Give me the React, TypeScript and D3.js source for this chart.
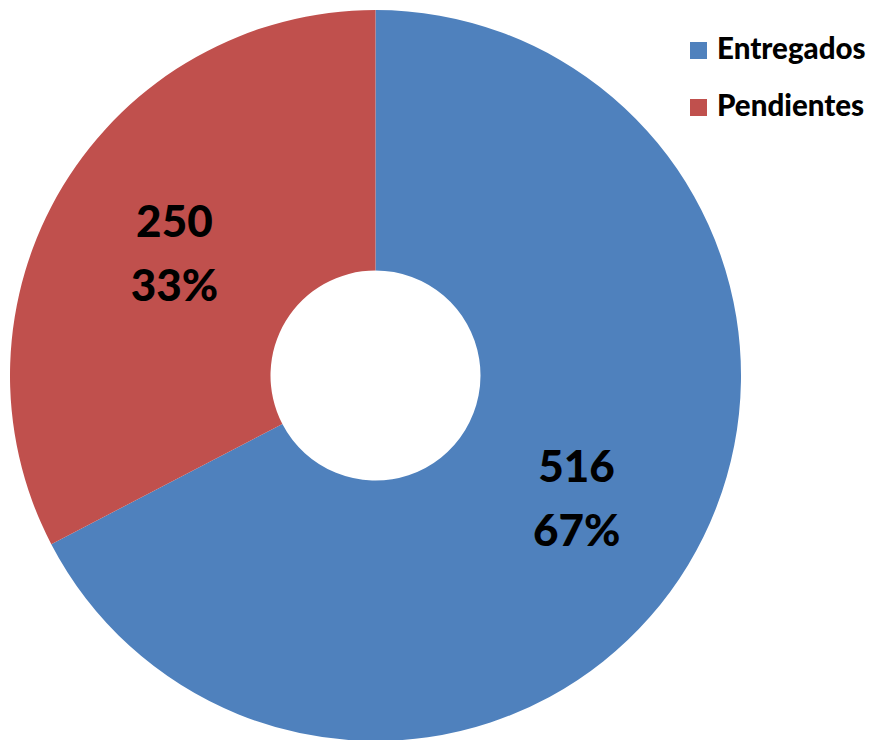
import React from "react";
import * as d3 from "d3";

const categories = ["Entregados", "Pendientes"];
const values = [516, 250];
const colors = ["#4F81BD", "#C0504D"];

const W = 869;
const H = 740;
const cx = 375.5;
const cy = 375.5;
const outerR = 365.5;
const innerR = 105;
const FONT = "Lato, 'Open Sans', sans-serif";

export default function App() {
  const total = d3.sum(values);
  const pie = d3.pie<number>().sort(null).value((d) => d);
  const arcs = pie(values);
  const arc = d3.arc<d3.PieArcDatum<number>>().innerRadius(innerR).outerRadius(outerR);
  return (
    <div style={{ position: "fixed", left: 0, top: 0 }}>
      <svg width={W} height={H} style={{ display: "block", background: "#fff" }}>
        <g transform={`translate(${cx},${cy})`}>
          {arcs.map((a, i) => (
            <path key={i} d={arc(a) || ""} fill={colors[i]} />
          ))}
          {arcs.map((a, i) => {
            const [x, y] = arc.centroid(a);
            return (
              <text
                key={"l" + i}
                x={x}
                y={y}
                textAnchor="middle"
                fontFamily={FONT}
                fontWeight={900}
                fontSize={44}
                fill="#000"
              >
                <tspan x={x} dy={-16}>{values[i]}</tspan>
                <tspan x={x} dy={64}>{Math.round((values[i] / total) * 100) + "%"}</tspan>
              </text>
            );
          })}
        </g>
        {categories.map((c, i) => (
          <g key={c} transform={`translate(690,${42 + i * 57})`}>
            <rect width={17} height={17} fill={colors[i]} />
            <text x={27} y={17} fontFamily={FONT} fontWeight={900} fontSize={29.5} fill="#000">
              {c}
            </text>
          </g>
        ))}
      </svg>
    </div>
  );
}
